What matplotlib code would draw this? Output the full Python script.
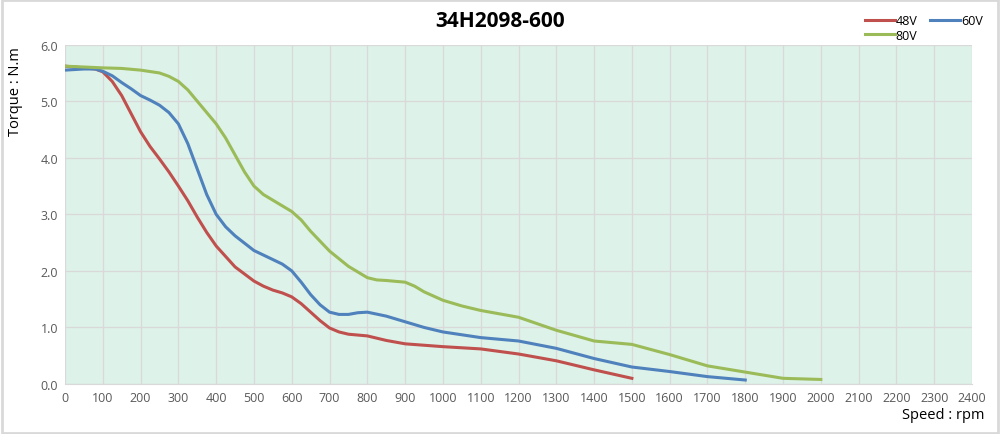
import matplotlib.pyplot as plt
from matplotlib.patches import Rectangle

plt.rcParams['font.family'] = ['Open Sans', 'DejaVu Sans']

# 48V
rpm_48 = [0, 50, 80, 100, 125, 150, 175, 200, 225, 250, 275, 300, 325, 350, 375, 400,
          450, 500, 525, 550, 575, 600, 625, 650, 675, 700, 725, 750, 800, 850, 900,
          1000, 1100, 1200, 1300, 1400, 1500]
torque_48 = [5.62, 5.59, 5.57, 5.52, 5.35, 5.1, 4.78, 4.46, 4.2, 3.98, 3.75, 3.5, 3.24,
             2.95, 2.68, 2.44, 2.07, 1.82, 1.73, 1.66, 1.61, 1.54, 1.42, 1.27, 1.12,
             0.99, 0.92, 0.88, 0.85, 0.77, 0.71, 0.66, 0.62, 0.53, 0.41, 0.25, 0.1]

# 60V
rpm_60 = [0, 25, 50, 80, 100, 125, 150, 175, 200, 225, 250, 275, 300, 325, 350, 375,
          400, 425, 450, 500, 550, 575, 600, 625, 650, 675, 700, 725, 750, 775, 800,
          850, 900, 950, 1000, 1100, 1200, 1300, 1400, 1500, 1600, 1700, 1800]
torque_60 = [5.55, 5.56, 5.57, 5.57, 5.53, 5.45, 5.33, 5.22, 5.1, 5.02, 4.93, 4.8, 4.6,
             4.25, 3.8, 3.35, 3.0, 2.78, 2.62, 2.36, 2.2, 2.12, 2.0, 1.8, 1.58, 1.4,
             1.27, 1.23, 1.23, 1.26, 1.27, 1.2, 1.1, 1.0, 0.92, 0.82, 0.76, 0.63,
             0.45, 0.3, 0.22, 0.13, 0.07]

# 80V
rpm_80 = [0, 100, 150, 200, 250, 275, 300, 325, 350, 375, 400, 425, 450, 475, 500, 525,
          550, 600, 625, 650, 700, 750, 800, 825, 850, 900, 925, 950, 1000, 1050,
          1100, 1200, 1300, 1400, 1500, 1600, 1700, 1800, 1900, 2000]
torque_80 = [5.62, 5.59, 5.58, 5.55, 5.5, 5.44, 5.35, 5.2, 5.0, 4.8, 4.6, 4.35, 4.05,
             3.75, 3.5, 3.35, 3.25, 3.05, 2.9, 2.7, 2.35, 2.08, 1.88, 1.84, 1.83, 1.8,
             1.73, 1.63, 1.48, 1.38, 1.3, 1.18, 0.95, 0.76, 0.7, 0.52, 0.32, 0.21,
             0.1, 0.08]

fig = plt.figure(figsize=(10, 4.35), dpi=100)
fig.patches.append(Rectangle((0.002, 0.003), 0.996, 0.994, transform=fig.transFigure,
                             fill=False, edgecolor='#d9d9d9', linewidth=2))

ax = fig.add_axes([0.065, 0.115, 0.907, 0.78])
ax.set_facecolor('#ddf2e8')

l48, = ax.plot(rpm_48, torque_48, color='#c0504d', lw=2.2, label='48V')
l60, = ax.plot(rpm_60, torque_60, color='#4f81bd', lw=2.2, label='60V')
l80, = ax.plot(rpm_80, torque_80, color='#9bbb59', lw=2.2, label='80V')

ax.set_xlim(0, 2400)
ax.set_ylim(0, 6)
ax.set_xticks(range(0, 2401, 100))
ax.set_yticks([0, 1, 2, 3, 4, 5, 6])
ax.set_yticklabels([f'{v:.1f}' for v in range(7)])
ax.grid(True, color='#d9d9d9', lw=0.9)
ax.set_axisbelow(True)
ax.tick_params(length=0, labelsize=9, colors='#595959', pad=5)
for s in ax.spines.values():
    s.set_visible(False)
ax.spines['bottom'].set_visible(True)
ax.spines['bottom'].set_color('#d9d9d9')

fig.text(0.5, 0.95, '34H2098-600', ha='center', va='center', fontsize=15, fontweight='bold')
fig.text(0.016, 0.79, 'Torque : N.m', rotation=90, ha='center', va='center', fontsize=10.5)
fig.text(0.985, 0.045, 'Speed : rpm', ha='right', va='center', fontsize=10.5)

fig.legend([l48, l80, l60], ['48V', '80V', '60V'], loc='upper right',
           bbox_to_anchor=(0.992, 0.985), ncol=2, frameon=False,
           fontsize=9, handlelength=2.4, handletextpad=0.1, columnspacing=1.0,
           labelspacing=0.1, borderpad=0.2)

fig.savefig('out.png', dpi=100)
